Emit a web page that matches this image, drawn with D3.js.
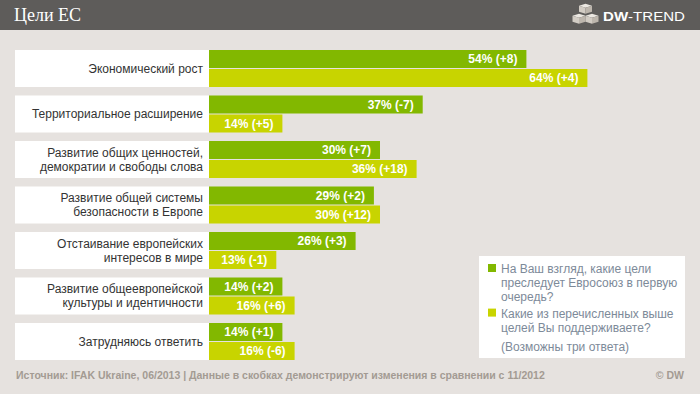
<!DOCTYPE html>
<html>
<head>
<meta charset="utf-8">
<script src="https://cdn.jsdelivr.net/npm/d3@7"></script>
<style>
	html, body { margin: 0; padding: 0; background: #e6e2df; }
	svg { display: block; }
	.cat { font-family: "Liberation Sans", Arial, sans-serif; font-size: 12px; fill: #333333; }
	.val { font-family: "Liberation Sans", Arial, sans-serif; font-size: 12px; font-weight: bold; fill: #ffffff; }
	.lgd { font-family: "Liberation Sans", Arial, sans-serif; font-size: 12px; fill: #7d8a99; }
	.foot { font-family: "Liberation Sans", Arial, sans-serif; font-size: 10.5px; font-weight: bold; fill: #a39b93; }
</style>
</head>
<body>
<div id="chart"></div>
<script>
"use strict";

/* global d3 */

// Categories (line breaks as in the picture)
var categories = [
	"Экономический рост",
	"Территориальное расширение",
	"Развитие общих ценностей,\nдемократии и свободы слова",
	"Развитие общей системы\nбезопасности в Европе",
	"Отстаивание европейских\nинтересов в мире",
	"Развитие общеевропейской\nкультуры и идентичности",
	"Затрудняюсь ответить"
];

// Series 1: "На Ваш взгляд, какие цели преследует Евросоюз..."
var pursued = [54, 37, 30, 29, 26, 14, 14];
var pursuedDiff = ["+8", "-7", "+7", "+2", "+3", "+2", "+1"];

// Series 2: "Какие из перечисленных выше целей Вы поддерживаете?"
var supported = [64, 14, 36, 30, 13, 16, 16];
var supportedDiff = ["+4", "+5", "+18", "+12", "-1", "+6", "-6"];

var legendItems = [
	["На Ваш взгляд, какие цели", "преследует Евросоюз в первую", "очередь?"],
	["Какие из перечисленных выше", "целей Вы поддерживаете?"]
];
var legendNote = "(Возможны три ответа)";

var title = "Цели ЕС";
var source = "Источник: IFAK Ukraine, 06/2013 | Данные в скобках демонстрируют изменения в сравнении с 11/2012";
var credit = "© DW";

var colors = ["#82b800", "#c8d400"];

var W = 700, H = 394;

var svg = d3.select("#chart").append("svg").attr("width", W).attr("height", H);

svg.append("rect").attr("width", W).attr("height", H).attr("fill", "#e6e2df");

// Header band
svg.append("rect").attr("width", W).attr("height", 30).attr("fill", "#5e5c5a");
svg.append("text").attr("x", 14).attr("y", 21).
	style("font-family", "'Liberation Serif', 'Times New Roman', serif").style("font-size", "18px").
	attr("fill", "#ffffff").text(title);

// DW-TREND logo: three stacked cubes and the word mark
var logo = svg.append("g").attr("transform", "translate(572, 4)");
function cube(g, cx, cy, s) {
	var h = s / 2;
	g.append("path").attr("d", "M" + cx + "," + (cy - h) + " l" + s + "," + h / 1.6 + " l-" + s + "," + h / 1.6 + " l-" + s + ",-" + h / 1.6 + "Z").attr("fill", "#ebe7e1");
	g.append("path").attr("d", "M" + (cx - s) + "," + (cy - h + h / 1.6) + " l" + s + "," + h / 1.6 + " v" + s * 0.9 + " l-" + s + ",-" + h / 1.6 + "Z").attr("fill", "#d2ccc4");
	g.append("path").attr("d", "M" + cx + "," + (cy - h + 2 * h / 1.6) + " l" + s + ",-" + h / 1.6 + " v" + s * 0.9 + " l-" + s + "," + h / 1.6 + "Z").attr("fill", "#bdb6ad");
}
cube(logo, 13.5, 3, 6.5);
cube(logo, 7, 13, 6.5);
cube(logo, 20, 13, 6.5);

var mark = svg.append("text").attr("x", 603).attr("y", 21).attr("fill", "#ffffff").
	style("font-family", "'Liberation Sans', Arial, sans-serif").style("font-size", "12px").
	attr("textLength", 82).attr("lengthAdjust", "spacingAndGlyphs");
mark.append("tspan").style("font-weight", "bold").text("DW");
mark.append("tspan").text("-TREND");

// Scales
var labelLeft = 15, barLeft = 209;
var x = d3.scaleLinear().domain([0, 100]).range([197, 807]);
var y = d3.scaleBand().domain(d3.range(categories.length)).range([50, 360]).
	paddingInner(8.5 / 45.5).paddingOuter(0);

var rows = svg.append("g").selectAll("g").data(categories).join("g").
	attr("transform", function(d, i) { return "translate(0," + y(i) + ")"; });

// White label box
rows.append("rect").attr("x", labelLeft).attr("y", 0).
	attr("width", barLeft - labelLeft).attr("height", y.bandwidth()).attr("fill", "#ffffff");

// Category labels, one or two lines, right aligned
rows.each(function(d) {
	var lines = d.split("\n");
	var t = d3.select(this).append("text").attr("class", "cat").attr("text-anchor", "end");
	var cy = y.bandwidth() / 2 + 4.3 - (lines.length - 1) * 7;
	lines.forEach(function(l, k) {
		t.append("tspan").attr("x", barLeft - 6).attr("y", cy + k * 14).text(l);
	});
});

var barH = 18, barGap = 19;
var series = [
	{vals: pursued, diff: pursuedDiff, off: 0, color: colors[0]},
	{vals: supported, diff: supportedDiff, off: barGap, color: colors[1]}
];

series.forEach(function(s) {
	rows.append("rect").attr("x", barLeft).attr("y", s.off).
		attr("width", function(d, i) { return x(s.vals[i]) - barLeft; }).
		attr("height", barH).attr("fill", s.color);
	rows.append("text").attr("class", "val").attr("text-anchor", "end").
		attr("x", function(d, i) { return x(s.vals[i]) - 9; }).
		attr("y", s.off + barH / 2 + 4.3).
		text(function(d, i) { return s.vals[i] + "% (" + s.diff[i] + ")"; });
});

// Legend
var lg = svg.append("g").attr("transform", "translate(479, 256)");
lg.append("rect").attr("width", 206).attr("height", 102).attr("fill", "#ffffff");
var ly = 17.3;
legendItems.forEach(function(lines, i) {
	lg.append("rect").attr("x", 9).attr("y", ly - 9.3).attr("width", 8).attr("height", 8).attr("fill", colors[i]);
	lines.forEach(function(l) {
		lg.append("text").attr("class", "lgd").attr("x", 22).attr("y", ly).text(l);
		ly += 14;
	});
	ly += 2.6;
});
lg.append("text").attr("class", "lgd").attr("x", 22).attr("y", 95).text(legendNote);

// Footer
svg.append("text").attr("class", "foot").attr("x", 16).attr("y", 379).text(source);
svg.append("text").attr("class", "foot").attr("x", 684).attr("y", 379).attr("text-anchor", "end").text(credit);
</script>
</body>
</html>
